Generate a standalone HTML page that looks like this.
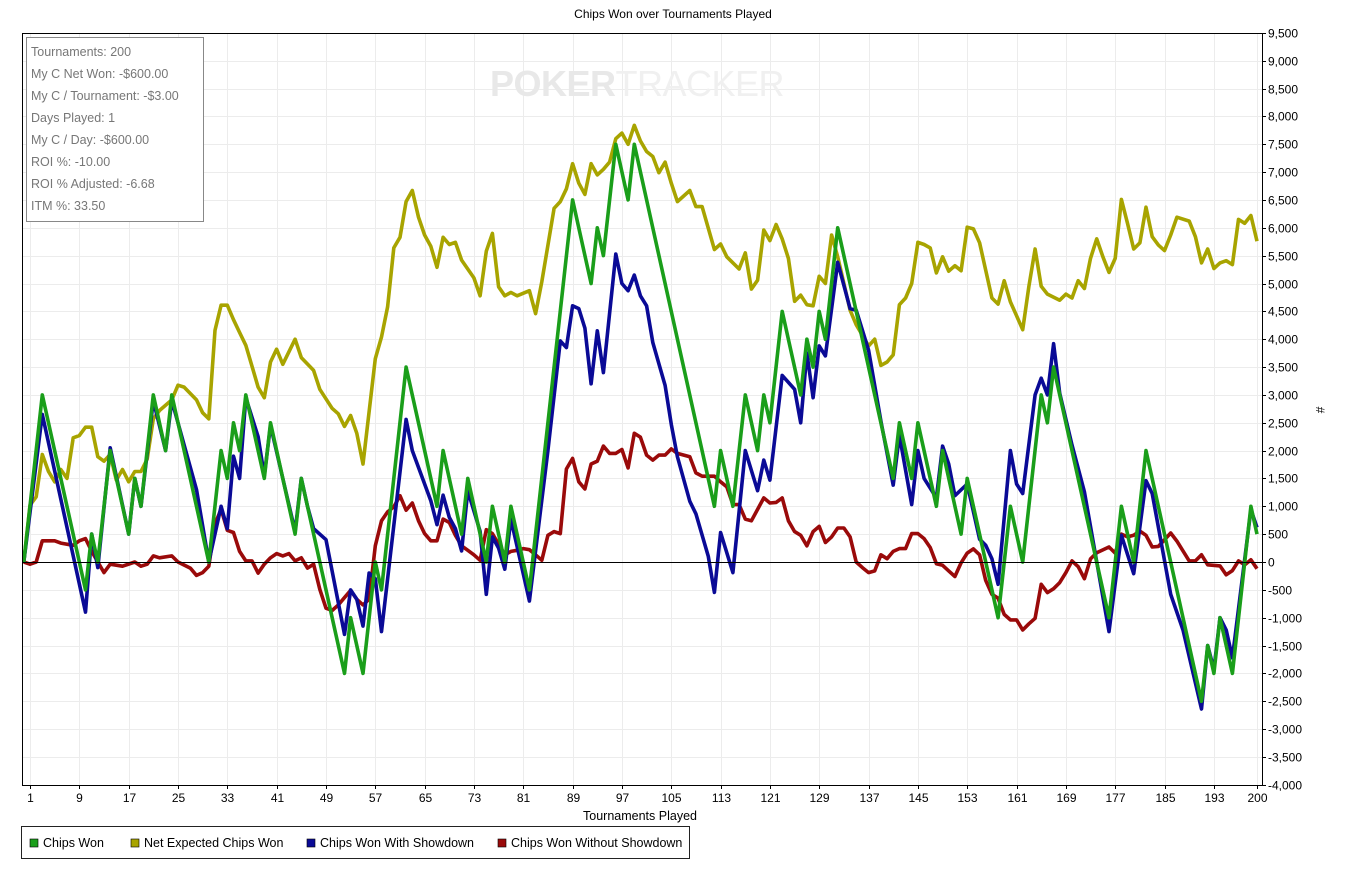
<!DOCTYPE html>
<html><head><meta charset="utf-8"><style>
body{margin:0;background:#fff;width:1347px;height:875px;overflow:hidden;font-family:"Liberation Sans Narrow","Liberation Sans",sans-serif;}
svg text{font-family:"Liberation Sans Narrow","Liberation Sans",sans-serif;}
</style></head><body>
<svg id="chart" width="1347" height="875" xmlns="http://www.w3.org/2000/svg">
<text x="673" y="18" text-anchor="middle" font-size="12" fill="#000">Chips Won over Tournaments Played</text>
<g id="grid"></g>
<g><text x="490" y="96" font-size="36" font-weight="bold" fill="#e8e8e8" letter-spacing="-0.5" style="font-family:'Liberation Sans',sans-serif">POKER<tspan fill="#f0f0f0" font-weight="normal">TRACKER</tspan></text></g>
<g id="series"></g>
<g id="axes"></g>
<g>
<rect x="26.5" y="37.5" width="177" height="184" fill="#fff" stroke="#888"/>
<g font-size="12.5" fill="#777">
<text x="31" y="56" style="font-family:'Liberation Sans',sans-serif">Tournaments: 200</text>
<text x="31" y="78" style="font-family:'Liberation Sans',sans-serif">My C Net Won: -$600.00</text>
<text x="31" y="100" style="font-family:'Liberation Sans',sans-serif">My C / Tournament: -$3.00</text>
<text x="31" y="122" style="font-family:'Liberation Sans',sans-serif">Days Played: 1</text>
<text x="31" y="144" style="font-family:'Liberation Sans',sans-serif">My C / Day: -$600.00</text>
<text x="31" y="166" style="font-family:'Liberation Sans',sans-serif">ROI %: -10.00</text>
<text x="31" y="188" style="font-family:'Liberation Sans',sans-serif">ROI % Adjusted: -6.68</text>
<text x="31" y="210" style="font-family:'Liberation Sans',sans-serif">ITM %: 33.50</text>
</g></g>
<text x="640" y="820" text-anchor="middle" font-size="12.5">Tournaments Played</text>
<text x="1316" y="410" text-anchor="middle" font-size="12" transform="rotate(90 1316 410)">#</text>
<g font-size="12.5">
<rect x="21.5" y="826.5" width="668" height="32" fill="#fff" stroke="#222"/>
<g><rect x="30" y="839" width="8" height="8" fill="#1a9e1a" stroke="#000" stroke-width="0.6"/><text x="43" y="847">Chips Won</text></g>
<g><rect x="131" y="839" width="8" height="8" fill="#a8a400" stroke="#000" stroke-width="0.6"/><text x="144" y="847">Net Expected Chips Won</text></g>
<g><rect x="307" y="839" width="8" height="8" fill="#0a0a96" stroke="#000" stroke-width="0.6"/><text x="320" y="847">Chips Won With Showdown</text></g>
<g><rect x="498" y="839" width="8" height="8" fill="#9a0a0a" stroke="#000" stroke-width="0.6"/><text x="511" y="847">Chips Won Without Showdown</text></g>
</g>
</svg>
<script>
const xTickLabels=[1,9,17,25,33,41,49,57,65,73,81,89,97,105,113,121,129,137,145,153,161,169,177,185,193,200];
const yTicks=[];for(let v=-4000;v<=9500;v+=500)yTicks.push(v);
const greenX=[0,3,10,11,12,14,17,18,19,21,23,24,30,32,33,34,35,36,39,40,44,45,52,53,55,57,58,62,67,68,71,72,75,76,78,79,82,89,92,93,94,96,98,99,112,113,115,117,119,120,121,123,126,127,128,129,130,132,141,142,144,145,148,149,152,153,158,160,162,165,166,167,170,176,178,180,182,191,192,193,194,196,199,200];
const greenY=[0,3000,-500,500,0,2000,500,1500,1000,3000,2000,3000,0,2000,1500,2500,2000,3000,1500,2500,500,1500,-2000,-1000,-2000,0,-500,3500,1000,2000,500,1500,0,1000,0,1000,-500,6500,5000,6000,5500,7500,6500,7500,1000,2000,1000,3000,2000,3000,2500,4500,3000,4000,3500,4500,4000,6000,1500,2500,1500,2500,1000,2000,500,1500,-1000,1000,0,3000,2500,3500,2000,-1000,1000,0,2000,-2500,-1500,-2000,-1000,-2000,1000,500];
const blueX=[0,3,10,11,12,14,17,18,19,21,23,24,28,30,32,33,34,35,36,38,39,40,44,45,46,47,49,52,53,54,55,56,57,58,62,63,66,67,68,69,70,71,72,74,75,76,77,78,79,82,85,87,88,89,90,91,92,93,94,96,97,98,99,100,101,102,104,105,106,108,109,111,112,113,115,117,119,120,121,123,125,126,127,128,129,130,132,134,135,137,139,141,142,144,145,146,148,149,150,151,153,155,156,157,158,160,161,162,164,165,166,167,168,170,172,176,178,180,182,183,186,188,191,192,193,194,195,196,199,200];
const blueY=[0,2650,-900,500,-100,2050,500,1500,1000,2900,2000,2900,1300,0,1000,600,1900,1500,2950,2250,1550,2450,550,1500,1000,600,400,-1300,-500,-670,-1150,-200,-300,-1250,2560,2000,1100,670,1200,800,600,200,1280,550,-580,450,250,-130,770,-700,2000,3970,3850,4600,4550,4200,3200,4150,3400,5530,5000,4870,5150,4780,4600,3940,3170,2470,1890,1090,865,100,-545,530,-190,2000,1280,1830,1470,3350,3100,2500,3750,2950,3880,3700,5380,4550,4520,3800,2530,1380,2275,1030,2000,1500,1150,2080,1760,1190,1400,410,300,60,-400,2000,1400,1230,3000,3300,3000,3920,3030,2100,1260,-1250,480,-210,1460,1230,-580,-1220,-2640,-1500,-1930,-1000,-1220,-1720,940,620];
const oliveX=[0,1,2,3,4,5,6,7,8,9,10,11,12,13,14,15,16,17,18,19,20,21,22,24,25,26,28,29,30,31,32,33,34,35,36,37,38,39,40,41,42,44,45,47,48,50,51,52,53,54,55,57,58,59,60,61,62,63,64,65,66,67,68,69,70,71,73,74,75,76,77,78,79,80,82,83,84,86,87,88,89,90,91,92,93,94,95,96,97,98,99,100,101,102,103,104,105,106,108,109,110,112,113,114,116,117,118,119,120,121,122,123,124,125,126,127,128,129,130,131,132,134,135,137,138,139,140,141,142,143,144,145,146,147,148,149,150,151,152,153,154,155,157,158,159,160,161,162,163,164,165,166,168,169,170,171,172,173,174,175,176,177,178,179,180,181,182,183,184,185,186,187,189,190,191,192,193,194,195,196,197,198,199,200];
const oliveY=[0,1020,1170,1930,1625,1440,1660,1500,2230,2270,2420,2420,1890,1810,1930,1470,1660,1440,1625,1625,1850,2570,2720,2910,3175,3140,2910,2680,2570,4160,4610,4610,4350,4120,3890,3515,3140,2950,3590,3820,3550,4000,3670,3440,3100,2760,2660,2435,2630,2310,1760,3650,4040,4580,5640,5830,6470,6670,6190,5870,5670,5290,5830,5700,5740,5420,5100,4780,5580,5900,4940,4780,4840,4780,4870,4460,5030,6350,6470,6700,7150,6800,6600,7150,6950,7050,7180,7600,7700,7500,7840,7560,7370,7280,6990,7180,6800,6470,6670,6380,6380,5610,5710,5480,5260,5550,4900,5060,5960,5770,6060,5800,5450,4680,4790,4620,4600,5130,5000,5870,5480,4520,4260,3880,4000,3530,3590,3720,4620,4740,5000,5740,5700,5640,5190,5480,5220,5320,5230,6010,5980,5730,4740,4630,5050,4670,4420,4170,4950,5620,4950,4810,4700,4810,4740,5050,4910,5450,5800,5480,5200,5450,6510,6080,5620,5730,6370,5840,5690,5590,5870,6190,6120,5840,5370,5620,5270,5370,5410,5340,6150,6080,6220,5760];
const redX=[0,1,2,3,5,6,8,9,10,11,13,14,16,18,19,20,21,22,24,25,27,28,29,30,31,32,33,34,35,36,37,38,39,40,41,42,43,44,45,46,47,48,49,50,51,52,53,54,55,56,57,58,59,60,61,62,63,64,65,66,67,68,69,70,71,72,73,74,75,76,77,78,79,80,81,82,83,84,85,86,87,88,89,90,91,92,93,94,95,96,97,98,99,100,101,102,103,104,105,106,108,109,110,112,113,114,115,116,117,118,120,121,122,123,124,125,126,127,128,129,130,131,132,133,134,135,136,137,138,139,140,141,142,143,144,145,146,147,148,149,150,151,152,153,154,155,156,157,158,159,160,161,162,163,164,165,166,167,168,169,170,171,172,173,174,176,177,178,179,180,181,182,183,184,186,187,188,189,190,191,192,194,195,196,197,198,199,200];
const redY=[0,-40,0,380,380,340,300,380,420,190,-190,-40,-75,0,-75,-40,110,75,110,0,-110,-240,-190,-75,680,950,570,530,190,20,20,-200,-40,75,150,110,150,20,75,-110,-40,-490,-830,-870,-770,-640,-510,-670,-770,-670,290,740,900,990,1190,930,1060,740,510,380,380,770,710,480,290,210,130,30,580,510,320,130,190,210,240,220,130,30,480,545,510,1670,1860,1440,1310,1760,1810,2080,1950,1950,2020,1690,2310,2240,1920,1830,1920,1920,2030,1950,1890,1600,1540,1540,1440,1350,1030,1030,770,740,1150,1060,1070,1150,740,545,480,290,545,640,350,450,610,610,450,0,-100,-190,-160,130,60,190,240,240,510,510,420,260,-30,-60,-160,-260,-15,160,235,130,-330,-580,-650,-940,-1040,-1040,-1220,-1110,-1010,-400,-550,-480,-370,-190,20,-85,-300,55,165,270,160,500,450,480,555,480,270,280,520,375,200,20,20,130,-50,-70,-230,-155,20,-50,40,-120];

const NS='http://www.w3.org/2000/svg';
const L=22,R=1262,T=33,B=785;
function xScale(i){return 23.83+i*6.166;}
function yScale(v){return 562-v*0.0557;}
function mk(tag,attrs,parent){const e=document.createElementNS(NS,tag);for(const k in attrs)e.setAttribute(k,attrs[k]);parent.appendChild(e);return e;}
const grid=document.getElementById('grid'),axes=document.getElementById('axes'),series=document.getElementById('series');
yTicks.forEach(v=>{const y=Math.round(yScale(v))+0.5;
 const g=mk('line',{x1:L,x2:R,y1:y,y2:y,stroke:v===0?'#000':'#ececec','stroke-width':1},v===0?axes:grid);
 
 
 const t=mk('line',{x1:R,x2:R+4,y1:y,y2:y,stroke:'#000'},axes);
 
 
 const lb=mk('text',{x:R+6,y:y+4,'font-size':12},axes);lb.textContent=v.toLocaleString('en-US');
 
 
});
xTickLabels.forEach(n=>{const x=Math.round(xScale(n))+0.5;
 const g=mk('line',{x1:x,x2:x,y1:T,y2:B,stroke:'#ececec'},grid);
 
 
 const t=mk('line',{x1:x,x2:x,y1:B,y2:B+4,stroke:'#000'},axes);
 
 
 const lb=mk('text',{x:x,y:B+17,'font-size':12,'text-anchor':'middle'},axes);lb.textContent=n;
 
 
});
const frame=mk('path',{d:`M${R+0.5},${T} V${B+0.5} H${L+0.5} V${T+0.5} H${R}`,fill:'none',stroke:'#000'},axes);


function drawLine(xs,ys,color,name){
 const n=Math.min(xs.length,ys.length);let d='';
 for(let k=0;k<n;k++)d+=(k?'L':'M')+xScale(xs[k]).toFixed(1)+','+yScale(ys[k]).toFixed(1);
 const p=mk('path',{d:d,fill:'none',stroke:color,'stroke-width':3.6,'stroke-linejoin':'round'},series);
 
 
}
drawLine(redX,redY,'#9a0a0a','line-chips-won-without-showdown');
drawLine(oliveX,oliveY,'#a8a400','line-net-expected-chips-won');
drawLine(blueX,blueY,'#0a0a96','line-chips-won-with-showdown');
drawLine(greenX,greenY,'#1a9e1a','line-chips-won');
</script>
</body></html>
